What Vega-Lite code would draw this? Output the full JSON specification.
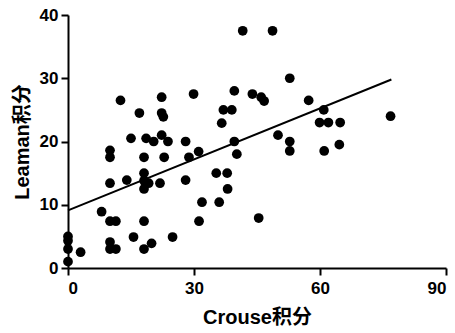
{
  "$schema": "https://vega.github.io/schema/vega-lite/v6.json",
  "autosize": {"type": "none"},
  "width": 378,
  "height": 253,
  "padding": {"left": 68, "top": 15, "right": 9, "bottom": 65},
  "background": "white",
  "config": {
    "view": {"stroke": null},
    "font": "Liberation Sans",
    "axis": {
      "grid": false,
      "domainColor": "black",
      "domainWidth": 2,
      "tickColor": "black",
      "tickWidth": 2,
      "tickSize": 7,
      "labelFont": "Liberation Sans",
      "labelFontSize": 17,
      "labelFontWeight": "bold",
      "labelColor": "black",
      "titleFont": "Liberation Sans, Noto Sans CJK SC",
      "titleFontSize": 20,
      "titleFontWeight": "bold",
      "titleColor": "black"
    }
  },
  "datasets": {
    "pts": [
      {"crouse": 0, "leaman": 5.0}, {"crouse": 0, "leaman": 4.3}, {"crouse": 0, "leaman": 3.0}, {"crouse": 0, "leaman": 1.0},
      {"crouse": 3.0, "leaman": 2.5}, {"crouse": 8.0, "leaman": 8.9}, {"crouse": 10.0, "leaman": 7.4}, {"crouse": 11.4, "leaman": 7.4},
      {"crouse": 10.0, "leaman": 4.1}, {"crouse": 10.0, "leaman": 3.0}, {"crouse": 11.4, "leaman": 3.0}, {"crouse": 10.0, "leaman": 13.4},
      {"crouse": 10.0, "leaman": 18.6}, {"crouse": 10.0, "leaman": 17.5}, {"crouse": 12.5, "leaman": 26.5}, {"crouse": 14.0, "leaman": 13.9},
      {"crouse": 15.0, "leaman": 20.5}, {"crouse": 15.6, "leaman": 4.9}, {"crouse": 17.0, "leaman": 24.5}, {"crouse": 18.1, "leaman": 17.5},
      {"crouse": 18.6, "leaman": 20.5}, {"crouse": 18.1, "leaman": 15.0}, {"crouse": 18.1, "leaman": 13.8}, {"crouse": 19.2, "leaman": 13.4},
      {"crouse": 18.1, "leaman": 12.5}, {"crouse": 18.1, "leaman": 7.4}, {"crouse": 18.1, "leaman": 3.0}, {"crouse": 19.9, "leaman": 3.9},
      {"crouse": 20.4, "leaman": 20.0}, {"crouse": 21.9, "leaman": 13.4}, {"crouse": 22.3, "leaman": 27.0}, {"crouse": 22.3, "leaman": 24.5},
      {"crouse": 22.7, "leaman": 23.9}, {"crouse": 22.3, "leaman": 21.0}, {"crouse": 23.8, "leaman": 20.0}, {"crouse": 22.9, "leaman": 17.5},
      {"crouse": 24.9, "leaman": 4.9}, {"crouse": 28.0, "leaman": 20.0}, {"crouse": 28.8, "leaman": 17.5}, {"crouse": 28.0, "leaman": 13.9},
      {"crouse": 29.9, "leaman": 27.5}, {"crouse": 31.1, "leaman": 18.4}, {"crouse": 31.9, "leaman": 10.4}, {"crouse": 31.2, "leaman": 7.4},
      {"crouse": 35.3, "leaman": 15.0}, {"crouse": 36.0, "leaman": 10.4}, {"crouse": 36.6, "leaman": 22.9}, {"crouse": 37.0, "leaman": 25.0},
      {"crouse": 39.0, "leaman": 25.0}, {"crouse": 37.9, "leaman": 15.0}, {"crouse": 38.0, "leaman": 12.5}, {"crouse": 39.6, "leaman": 28.0},
      {"crouse": 39.6, "leaman": 20.0}, {"crouse": 40.2, "leaman": 18.0}, {"crouse": 41.6, "leaman": 37.5}, {"crouse": 48.7, "leaman": 37.5},
      {"crouse": 43.9, "leaman": 27.5}, {"crouse": 46.0, "leaman": 27.0}, {"crouse": 46.7, "leaman": 26.4}, {"crouse": 45.4, "leaman": 7.9},
      {"crouse": 50.0, "leaman": 21.0}, {"crouse": 52.8, "leaman": 30.0}, {"crouse": 52.8, "leaman": 20.0}, {"crouse": 52.8, "leaman": 18.5},
      {"crouse": 57.3, "leaman": 26.5}, {"crouse": 60.9, "leaman": 25.0}, {"crouse": 59.9, "leaman": 23.0}, {"crouse": 62.0, "leaman": 23.0},
      {"crouse": 64.8, "leaman": 23.0}, {"crouse": 61.0, "leaman": 18.5}, {"crouse": 64.6, "leaman": 19.5}, {"crouse": 76.8, "leaman": 24.0}
    ],
    "fit": [
      {"crouse": 0, "leaman": 9.1},
      {"crouse": 77, "leaman": 29.8}
    ]
  },
  "layer": [
    {
      "data": {"name": "fit"},
      "mark": {"type": "line", "color": "black", "strokeWidth": 2},
      "encoding": {
        "x": {"field": "crouse", "type": "quantitative", "scale": {"domain": [0, 90], "nice": false}, "axis": {"values": [0, 30, 60, 90], "title": "Crouse积分", "labelPadding": 5, "titlePadding": 11}},
        "y": {"field": "leaman", "type": "quantitative", "scale": {"domain": [0, 40], "nice": false}, "axis": {"values": [0, 10, 20, 30, 40], "title": "Leaman积分", "labelPadding": 3, "titlePadding": 7}}
      }
    },
    {
      "data": {"name": "pts"},
      "mark": {"type": "circle", "color": "black", "opacity": 1, "size": 95},
      "encoding": {
        "x": {"field": "crouse", "type": "quantitative"},
        "y": {"field": "leaman", "type": "quantitative"}
      }
    }
  ]
}
